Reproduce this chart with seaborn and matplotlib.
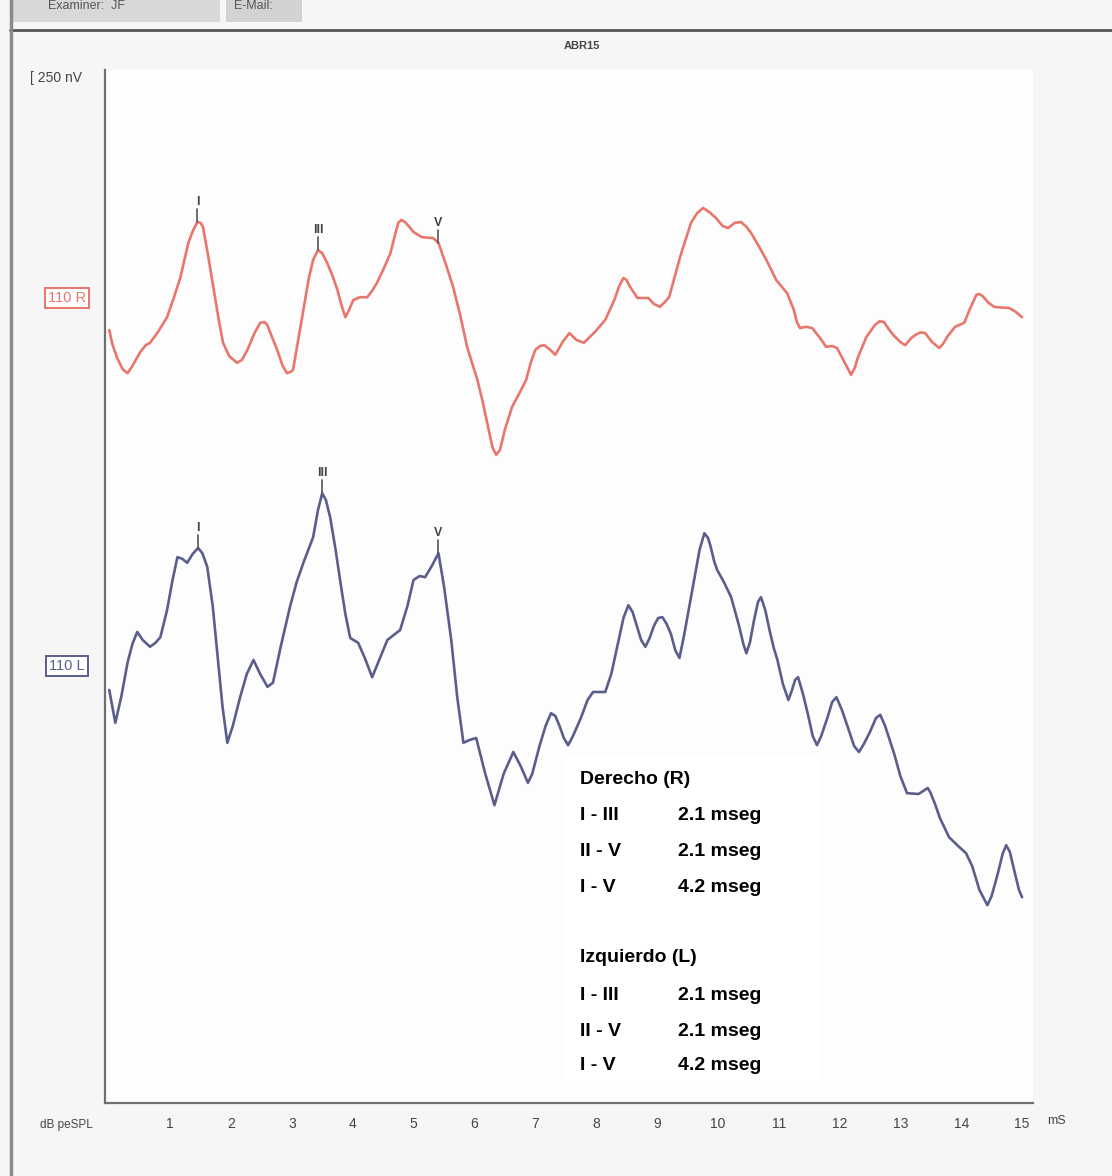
import numpy as np
import pandas as pd
import matplotlib
matplotlib.use("Agg")
import matplotlib.pyplot as plt
from matplotlib.patches import Rectangle
from matplotlib.lines import Line2D
import matplotlib.transforms as mtransforms
import seaborn as sns

# ---- ABR recordings (latency in ms, amplitude in nV relative to each channel baseline) ----
time_r = [0.00, 0.05, 0.13, 0.22, 0.30, 0.38, 0.51, 0.60, 0.67, 0.80, 0.95, 1.07, 1.17, 1.30,
          1.38, 1.45, 1.50, 1.54, 1.62, 1.71, 1.80, 1.87, 1.97, 2.10, 2.18, 2.27, 2.38, 2.48,
          2.55, 2.60, 2.68, 2.76, 2.85, 2.92, 2.98, 3.02, 3.10, 3.19, 3.28, 3.35, 3.43, 3.50,
          3.58, 3.67, 3.75, 3.82, 3.88, 3.94, 4.01, 4.12, 4.24, 4.32, 4.40, 4.50, 4.62, 4.70,
          4.75, 4.80, 4.86, 4.93, 5.00, 5.14, 5.32, 5.41, 5.53, 5.65, 5.77, 5.88, 6.05, 6.13,
          6.21, 6.30, 6.36, 6.42, 6.50, 6.62, 6.75, 6.85, 6.93, 7.00, 7.08, 7.15, 7.25, 7.33,
          7.45, 7.56, 7.68, 7.80, 7.98, 8.15, 8.30, 8.38, 8.45, 8.50, 8.55, 8.68, 8.86, 8.95,
          9.05, 9.13, 9.20, 9.38, 9.56, 9.66, 9.76, 9.86, 9.97, 10.08, 10.17, 10.28, 10.38,
          10.47, 10.55, 10.68, 10.80, 10.96, 11.14, 11.25, 11.30, 11.35, 11.45, 11.55, 11.68,
          11.78, 11.88, 11.96, 12.08, 12.19, 12.25, 12.30, 12.44, 12.58, 12.66, 12.73, 12.82,
          12.90, 13.00, 13.08, 13.18, 13.25, 13.33, 13.41, 13.52, 13.64, 13.70, 13.78, 13.90,
          14.05, 14.15, 14.25, 14.30, 14.35, 14.45, 14.54, 14.67, 14.79, 14.90, 15.00]
amp_r = [-80, -115, -150, -178, -188, -170, -135, -118, -112, -85, -48, 5, 52, 138,
         170, 190, 188, 178, 110, 28, -55, -112, -145, -162, -155, -130, -90, -62,
         -60, -68, -100, -130, -170, -188, -185, -180, -110, -30, 50, 95, 120, 112,
         88, 55, 20, -20, -48, -30, -5, 2, 2, 18, 38, 70, 112, 160,
         188, 195, 190, 178, 165, 152, 150, 138, 85, 28, -45, -122, -205, -255,
         -312, -375, -392, -380, -330, -272, -235, -205, -160, -130, -120, -118, -130, -142,
         -110, -88, -105, -112, -85, -55, -5, 30, 50, 45, 30, 0, 0, -15,
         -22, -10, 2, 102, 188, 212, 225, 215, 200, 180, 175, 188, 190,
         178, 162, 128, 95, 45, 12, -30, -60, -75, -72, -75, -100,
         -122, -120, -125, -160, -192, -175, -150, -98, -68, -58, -60, -80,
         -95, -110, -118, -100, -92, -86, -88, -110, -125, -115, -95, -72,
         -62, -25, 8, 10, 5, -12, -22, -24, -25, -35, -48]

time_l = [0.00, 0.10, 0.20, 0.30, 0.38, 0.46, 0.55, 0.67, 0.76, 0.84, 0.95, 1.04, 1.12, 1.20,
          1.28, 1.37, 1.46, 1.53, 1.61, 1.70, 1.77, 1.86, 1.94, 2.03, 2.15, 2.26, 2.37, 2.48,
          2.60, 2.69, 2.82, 2.97, 3.08, 3.19, 3.35, 3.43, 3.50, 3.56, 3.63, 3.72, 3.80, 3.88,
          3.96, 4.09, 4.20, 4.32, 4.45, 4.57, 4.78, 4.90, 5.00, 5.10, 5.19, 5.30, 5.41, 5.50,
          5.62, 5.72, 5.82, 5.92, 6.03, 6.18, 6.33, 6.48, 6.64, 6.76, 6.88, 6.95, 7.07, 7.17,
          7.26, 7.33, 7.40, 7.47, 7.54, 7.62, 7.75, 7.86, 7.95, 8.15, 8.25, 8.35, 8.45, 8.53,
          8.60, 8.67, 8.74, 8.81, 8.88, 8.95, 9.02, 9.09, 9.16, 9.23, 9.30, 9.37, 9.45, 9.58,
          9.70, 9.78, 9.84, 9.88, 9.94, 9.99, 10.10, 10.22, 10.35, 10.42, 10.47, 10.53, 10.59,
          10.66, 10.71, 10.78, 10.85, 10.92, 10.98, 11.07, 11.16, 11.22, 11.27, 11.32, 11.40,
          11.48, 11.56, 11.63, 11.70, 11.80, 11.88, 11.95, 12.04, 12.13, 12.24, 12.32, 12.40,
          12.50, 12.60, 12.67, 12.75, 12.90, 13.00, 13.11, 13.30, 13.45, 13.49, 13.57, 13.65,
          13.80, 13.95, 14.08, 14.18, 14.30, 14.43, 14.50, 14.60, 14.68, 14.74, 14.80, 14.87,
          14.95, 15.00]
amp_l = [-60, -142, -75, 8, 55, 85, 65, 48, 58, 72, 140, 215, 272, 268,
         258, 280, 295, 282, 248, 150, 40, -100, -192, -150, -78, -20, 15, -20,
         -52, -42, 50, 148, 210, 258, 322, 390, 432, 415, 372, 290, 208, 130,
         70, 58, 20, -28, 20, 65, 90, 150, 215, 225, 222, 250, 282, 200,
         65, -80, -192, -185, -180, -270, -348, -270, -215, -250, -292, -270, -200, -150,
         -118, -125, -150, -180, -198, -175, -130, -85, -65, -65, -20, 50, 120, 152,
         135, 100, 65, 48, 70, 100, 120, 122, 105, 80, 40, 20, 80, 190,
         290, 332, 320, 300, 262, 240, 210, 172, 100, 55, 32, 60, 110,
         160, 172, 140, 90, 45, 15, -45, -85, -60, -35, -28, -70,
         -120, -175, -198, -175, -130, -90, -78, -110, -150, -200, -215, -195,
         -165, -130, -122, -150, -220, -275, -318, -320, -305, -315, -345, -380,
         -428, -450, -468, -500, -560, -598, -575, -520, -470, -448, -465, -510,
         -560, -578]

channels = ["110 R", "110 L"]
channel_colors = ["#e9766c", "#5b5d8c"]
peak_labels = ["I", "III", "V"]
peak_times_r = [1.45, 3.43, 5.41]
peak_times_l = [1.46, 3.50, 5.41]
x_ticks = list(range(1, 16))

interval_names = ["I - III", "II - V", "I - V"]
interval_r = [2.1, 2.1, 4.2]
interval_l = [2.1, 2.1, 4.2]

# ---- layout constants ----
W, H = 1112, 1176
baseline = {"110 R": 2012.5, "110 L": 1092.5}   # vertical placement of each channel
YMAX = 2582.5

sns.set_style("white")
plt.rcParams["font.family"] = ["Liberation Sans", "DejaVu Sans"]

fig = plt.figure(figsize=(W / 100, H / 100), dpi=100, facecolor="#f6f6f6")


def fx(px):
    return px / W


def fy(py):
    return 1 - py / H


ax = fig.add_axes([fx(105), fy(1103), fx(1033) - fx(105), (1103 - 70) / H])
ax.set_facecolor("#fdfdfd")

frames = []
for name, t, a in [("110 R", time_r, amp_r), ("110 L", time_l, amp_l)]:
    frames.append(pd.DataFrame({"time": t, "amp": np.array(a, float) + baseline[name], "channel": name}))
df = pd.concat(frames, ignore_index=True)

sns.lineplot(data=df, x="time", y="amp", hue="channel", palette=dict(zip(channels, channel_colors)),
             estimator=None, sort=False, lw=1.9, legend=False, ax=ax,
             solid_joinstyle="round", solid_capstyle="round")

ax.set_xlim(-0.07, 15.18)
ax.set_ylim(0, YMAX)
ax.set_xlabel("")
ax.set_ylabel("")
ax.set_yticks([])
ax.set_xticks(x_ticks)
ax.set_xticklabels([str(v) for v in x_ticks], fontsize=10, color="#444444")
ax.tick_params(axis="x", length=0, pad=10)
for side in ["top", "right"]:
    ax.spines[side].set_visible(False)
for side in ["left", "bottom"]:
    ax.spines[side].set_color("#6f6f6f")
    ax.spines[side].set_linewidth(1.6)

# peak markers
for name, t, a, pts in [("110 R", time_r, amp_r, peak_times_r), ("110 L", time_l, amp_l, peak_times_l)]:
    for lab, pt in zip(peak_labels, pts):
        i = t.index(pt)
        yv = a[i] + baseline[name]
        ax.plot([pt, pt], [yv, yv + 32], color="#555555", lw=1.2)
        ax.annotate(lab, xy=(pt, yv + 32), xytext=(0, 1), textcoords="offset points",
                    ha="center", va="bottom", fontsize=9, fontweight="bold", color="#444444")

# channel labels at the baselines
blend = mtransforms.blended_transform_factory(fig.transFigure, ax.transData)
for name, col in zip(channels, channel_colors):
    ax.text(fx(67), baseline[name], name, transform=blend, ha="center", va="center",
            fontsize=10.5, color=col, clip_on=False,
            bbox=dict(boxstyle="square,pad=0.2", fc="white", ec=col, lw=1.4))

# scale and axis annotations
fig.text(fx(30), fy(78), "[ 250 nV", fontsize=10, color="#444444", va="center", ha="left")
fig.text(fx(582), fy(46), "ABR15", fontsize=8, color="#444444", va="center", ha="center",
         fontweight="bold")
fig.text(fx(1047), fy(1121), "mS", fontsize=9, color="#444444", va="center", ha="left")
fig.text(fx(40), fy(1125), "dB peSPL", fontsize=8.5, color="#444444", va="center", ha="left")

# header strip and frame
fig.patches.append(Rectangle((fx(12), fy(22)), fx(220) - fx(12), 22 / H, transform=fig.transFigure,
                             fc="#d8d8d8", ec="none", zorder=0))
fig.patches.append(Rectangle((fx(226), fy(22)), fx(302) - fx(226), 22 / H, transform=fig.transFigure,
                             fc="#d2d2d2", ec="none", zorder=0))
fig.text(fx(48), fy(6), "Examiner:  JF", fontsize=9, color="#555555", va="center", ha="left")
fig.text(fx(234), fy(6), "E-Mail:", fontsize=9, color="#555555", va="center", ha="left")
fig.lines.append(Line2D([fx(10), 1], [fy(30), fy(30)], transform=fig.transFigure, color="#555555", lw=2))
fig.lines.append(Line2D([fx(11), fx(11)], [0, 1], transform=fig.transFigure, color="#8a8a8a", lw=2.5))

# interval table
fig.patches.append(Rectangle((fx(565), fy(1082)), fx(820) - fx(565), (1082 - 757) / H,
                             transform=fig.transFigure, fc="white", ec="none", zorder=3))
rows_y_r = [816, 852, 888]
rows_y_l = [996, 1031, 1066]
txt_kw = dict(fontsize=14, fontweight="bold", va="center", ha="left", zorder=4, color="black")
fig.text(fx(580), fy(780), "Derecho (R)", **txt_kw)
for nm, v, yy in zip(interval_names, interval_r, rows_y_r):
    fig.text(fx(580), fy(yy), nm, **txt_kw)
    fig.text(fx(678), fy(yy), f"{v:.1f} mseg", **txt_kw)
fig.text(fx(580), fy(958), "Izquierdo (L)", **txt_kw)
for nm, v, yy in zip(interval_names, interval_l, rows_y_l):
    fig.text(fx(580), fy(yy), nm, **txt_kw)
    fig.text(fx(678), fy(yy), f"{v:.1f} mseg", **txt_kw)

fig.savefig("out.png", dpi=100, facecolor=fig.get_facecolor())
